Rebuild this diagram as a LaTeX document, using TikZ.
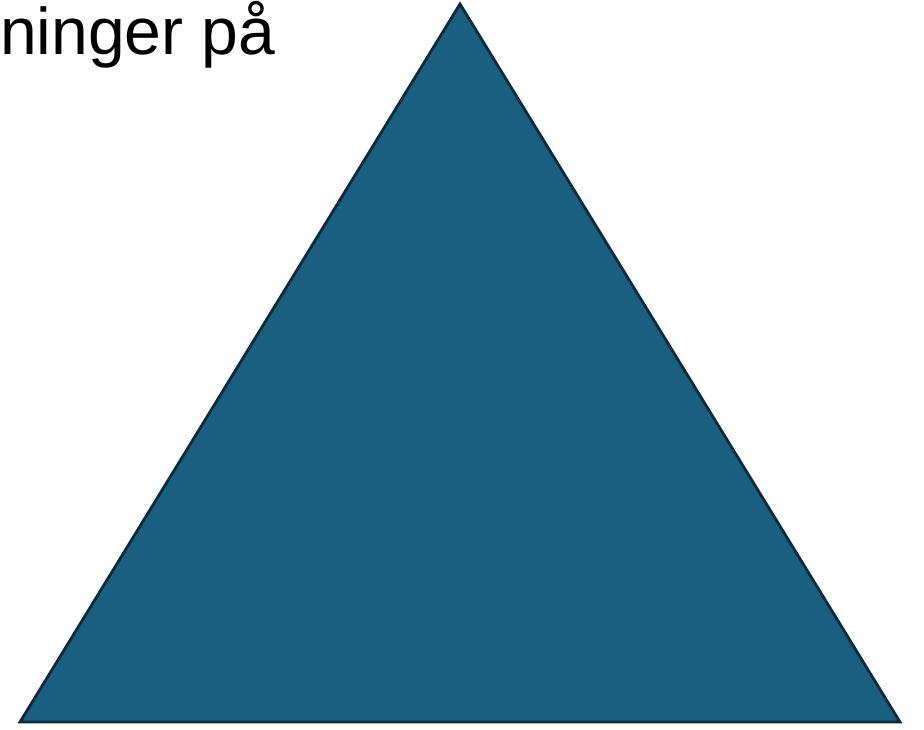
\documentclass[tikz,border=0pt]{standalone}
\usepackage{fontspec}
\setmainfont{Liberation Sans}
\definecolor{trifill}{HTML}{185F80}
\definecolor{triedge}{HTML}{0E2B3B}
\begin{document}
\begin{tikzpicture}[x=1pt,y=-1pt,
  tri/.style={fill=trifill,draw=triedge,line width=2.8pt,line join=miter},
  lbl/.style={anchor=base west,inner sep=0pt,font=\fontsize{66}{78}\selectfont}]
\useasboundingbox (0,0) rectangle (924,730);
\coordinate (top) at (460,4);
\coordinate (bl) at (20,722);
\coordinate (br) at (900,722);
\draw[tri] (top) -- (br) -- (bl) -- cycle;
\node[lbl] (t) at (0,55) {ninger på};
\end{tikzpicture}
\end{document}
